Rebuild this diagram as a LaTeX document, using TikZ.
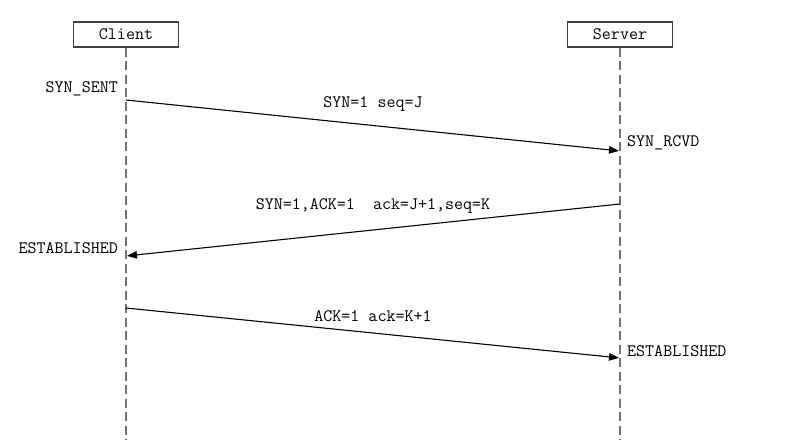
\documentclass[tikz,border=0pt]{standalone}
\usepackage{fontspec}
\newcommand\seqsize{\ttfamily\fontsize{17.5}{20}\selectfont}
\usetikzlibrary{arrows.meta,positioning}
\tikzset{
    %Define standard arrow tip
    >={Triangle[length=10pt,width=7.5pt]},
    %Define style for boxes
    actor/.style={
           rectangle,
           draw=black!75, line width=1.2pt,
           minimum width=105pt,
           minimum height=25pt,
           font=\seqsize,
           text centered},
    % Define line styles
    lifeline/.style={
           draw=black!55,
           line width=1.6pt,
           dash pattern=on 9pt off 4.5pt},
    msg/.style={
           ->,
           draw=black,
           line width=1.1pt,
           shorten >=1pt},
    msglabel/.style={
           font=\seqsize,
           inner sep=0pt},
    state/.style={
           font=\seqsize,
           inner sep=0pt}
}
\begin{document}
\begin{tikzpicture}[x=1pt,y=-1pt]
\useasboundingbox (0,0) rectangle (792,443);
 %actors
\node[actor](client) at (126,34.5){Client};
\node[actor](server) at (620,34.5){Server};
\coordinate (clientend) at (126,440);
\coordinate (serverend) at (620,440);
\draw[lifeline] (client.south) -- (clientend);
\draw[lifeline] (server.south) -- (serverend);

 %points on the lifelines
\coordinate (c1) at (126,100);
\coordinate (s1) at (620,151);
\coordinate (s2) at (620,204);
\coordinate (c2) at (126,256);
\coordinate (c3) at (126,308);
\coordinate (s3) at (620,358);

 %messages
\draw[msg] (c1) -- node[msglabel, midway, above=14pt]{SYN=1 seq=J} (s1);
\draw[msg] (s2) -- node[msglabel, midway, above=16pt]{SYN=1,ACK=1~~ack=J+1,seq=K} (c2);
\draw[msg] (c3) -- node[msglabel, midway, above=11pt]{ACK=1 ack=K+1} (s3);

 %states
\node[state, anchor=east](synsent) at (118,89){SYN\_SENT};
\node[state, anchor=west](synrcvd) at (627,143){SYN\_RCVD};
\node[state, anchor=east](estclient) at (118,248){ESTABLISHED};
\node[state, anchor=west](estserver) at (627,351){ESTABLISHED};
\end{tikzpicture}
\end{document}
